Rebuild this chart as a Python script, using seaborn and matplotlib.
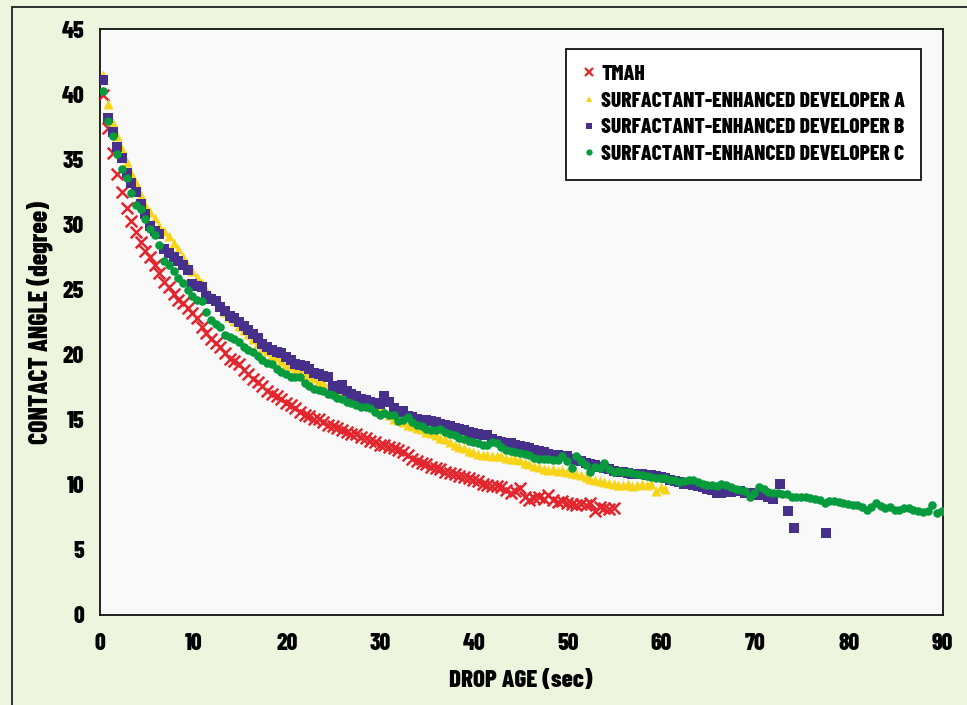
import numpy as np
import pandas as pd
import matplotlib
matplotlib.use("Agg")
import matplotlib.pyplot as plt
import seaborn as sns
from matplotlib.lines import Line2D
from matplotlib import font_manager as fm

# ---------------- data ----------------
SAMPLE_START = 0.4   # sec, first drop-age sample
SAMPLE_STEP = 0.5    # sec, sampling interval

tmah_y = [40.0, 37.4, 35.5, 33.9, 32.5, 31.3, 30.3, 29.4, 28.7, 28.0,
          27.5, 26.9, 26.3, 25.6, 25.2, 24.7, 24.2, 24.0, 23.6, 23.2,
          22.8, 22.1, 21.7, 21.2, 20.9, 20.6, 20.1, 19.7, 19.5, 19.3,
          18.8, 18.5, 18.1, 17.9, 17.6, 17.2, 17.0, 16.8, 16.6, 16.3,
          16.1, 15.9, 15.6, 15.4, 15.3, 15.1, 15.1, 14.8, 14.6, 14.5,
          14.4, 14.2, 14.1, 13.9, 13.9, 13.7, 13.6, 13.4, 13.3, 13.1,
          13.1, 12.9, 12.8, 12.7, 12.55, 12.3, 12.0, 11.8, 11.7, 11.6,
          11.4, 11.3, 11.2, 11.0, 10.9, 10.8, 10.7, 10.6, 10.5, 10.4,
          10.3, 10.1, 10.0, 9.95, 9.9, 9.85, 9.6, 9.4, 9.5, 9.75,
          9.1, 8.85, 9.0, 9.1, 8.95, 9.2, 8.8, 8.7, 8.75, 8.6,
          8.5, 8.45, 8.55, 8.45, 8.6, 8.0, 8.3, 8.2, 8.15, 8.2]

dev_a_y = [41.5, 39.3, 37.8, 36.8, 35.8, 34.8, 34.0, 33.2, 32.3, 31.5,
           31.0, 30.5, 29.9, 29.5, 29.1, 28.6, 28.1, 27.5, 26.8, 26.4,
           26.0, 25.5, 25.0, 24.5, 24.2, 23.8, 23.3, 22.9, 22.6, 22.2,
           21.9, 21.6, 21.2, 20.9, 20.5, 20.3, 20.0, 19.8, 19.5, 19.3,
           19.1, 18.9, 18.8, 18.6, 18.4, 18.2, 18.0, 17.8, 17.6, 17.4,
           17.2, 17.0, 16.9, 16.7, 16.5, 16.4, 16.2, 16.1, 15.9, 15.8,
           15.6, 15.4, 15.1, 15.0, 14.8, 14.6, 14.5, 14.4, 14.3, 14.1,
           14.0, 13.8, 13.6, 13.5, 13.3, 13.1, 12.9, 12.8, 12.6, 12.5,
           12.35, 12.3, 12.3, 12.2, 12.25, 12.2, 12.1, 12.0, 11.95, 11.9,
           11.7, 11.6, 11.45, 11.35, 11.2, 11.15, 11.2, 11.1, 11.15, 11.0,
           10.9, 10.8, 10.75, 10.6, 10.45, 10.4, 10.3, 10.25, 10.15, 10.1,
           10.0, 10.0, 10.05, 9.95, 10.0, 10.05, 10.0, 10.1, 9.5, 9.8,
           9.7]

dev_b_y = [41.1, 38.2, 37.1, 36.0, 35.1, 34.0, 33.2, 32.5, 31.6, 30.8,
           29.9, 29.5, 29.3, 28.1, 27.8, 27.5, 27.2, 26.9, 26.5, 25.4,
           25.3, 25.2, 24.5, 24.3, 24.1, 23.7, 23.4, 23.0, 22.8, 22.5,
           22.2, 21.9, 21.6, 21.3, 20.8, 20.6, 20.4, 20.2, 20.1, 19.85,
           19.6, 19.3, 19.2, 19.1, 18.9, 18.6, 18.5, 18.4, 18.3, 17.6,
           17.4, 17.7, 17.2, 17.0, 16.8, 16.6, 16.5, 16.4, 16.3, 16.2,
           16.8, 16.4, 15.9, 15.6, 15.7, 15.3, 15.2, 15.1, 15.0, 15.0,
           14.9, 14.8, 14.7, 14.6, 14.5, 14.4, 14.3, 14.2, 14.1, 14.0,
           13.9, 13.85, 13.8, 13.5, 13.4, 13.3, 13.25, 13.2, 13.1, 13.0,
           12.9, 12.8, 12.7, 12.6, 12.5, 12.35, 12.3, 12.3, 12.25, 12.2,
           12.0, 11.9, 11.8, 11.7, 11.6, 11.5, 11.4, 11.3, 11.2, 11.1,
           11.0, 10.95, 10.9, 10.85, 10.8, 10.8, 10.75, 10.75, 10.7, 10.6,
           10.5, 10.4, 10.3, 10.2, 10.1, 10.05, 10.0, 9.9, 9.8, 9.7,
           9.6, 9.4, 9.35, 9.5, 9.45, 9.5, 9.55, 9.4, 9.35, 9.3,
           9.25, 9.2, 9.05, 8.95]
# last readings of developer B (irregular times)
dev_b_tail_t = [72.6, 73.5, 74.1, 77.6]
dev_b_tail_y = [10.05, 8.0, 6.66, 6.33]

dev_c_y = [40.3, 38.0, 36.8, 35.4, 34.3, 33.6, 32.4, 31.5, 31.2, 30.4,
           29.7, 29.2, 28.4, 27.2, 26.9, 26.4, 25.9, 25.5, 25.0, 24.5,
           24.2, 24.1, 23.3, 22.7, 22.4, 22.1, 21.5, 21.4, 21.2, 21.0,
           20.6, 20.4, 20.2, 19.9, 19.6, 19.4, 19.3, 18.9, 18.7, 18.5,
           18.3, 18.3, 18.3, 17.8, 17.6, 17.4, 17.3, 17.2, 17.0, 16.9,
           16.7, 16.6, 16.4, 16.3, 16.1, 16.0, 16.0, 15.9, 15.6, 15.4,
           15.5, 15.4, 15.4, 14.9, 15.0, 15.25, 14.8, 14.6, 14.5, 14.3,
           14.2, 14.2, 14.3, 14.1, 13.9, 13.8, 13.6, 13.5, 13.4, 13.3,
           13.2, 13.1, 13.1, 13.3, 13.2, 12.9, 12.7, 12.6, 12.5, 12.45,
           12.4, 12.3, 12.1, 12.0, 12.0, 11.95, 11.9, 11.9, 12.2, 11.8,
           11.3, 12.2, 11.8, 11.5, 11.0, 11.4, 11.3, 11.65, 11.2, 11.0,
           11.1, 11.0, 11.0, 10.9, 10.8, 10.75, 10.7, 10.6, 10.55, 10.5,
           10.5, 10.4, 10.35, 10.25, 10.3, 10.35, 10.4, 10.2, 10.1, 10.0,
           10.0, 9.95, 10.05, 10.0, 9.85, 9.7, 9.6, 9.55, 9.1, 9.4,
           9.85, 9.7, 9.45, 9.35, 9.4, 9.3, 9.3, 9.1, 9.05, 9.1,
           9.1, 9.0, 8.95, 8.85, 8.6, 8.75, 8.75, 8.7, 8.6, 8.5,
           8.45, 8.45, 8.3, 8.1, 8.3, 8.6, 8.4, 8.2, 8.3, 8.1,
           8.1, 8.2, 8.2, 8.05, 8.0, 7.95, 8.0, 8.45, 7.8, 8.0]

series_names = ["TMAH",
                "SURFACTANT-ENHANCED DEVELOPER A",
                "SURFACTANT-ENHANCED DEVELOPER B",
                "SURFACTANT-ENHANCED DEVELOPER C"]
x_ticks = [0, 10, 20, 30, 40, 50, 60, 70, 80, 90]
y_ticks = [0, 5, 10, 15, 20, 25, 30, 35, 40, 45]


def sample_times(values):
    return [round(SAMPLE_START + SAMPLE_STEP * i, 2) for i in range(len(values))]


frames = []
frames.append(pd.DataFrame({"t": sample_times(tmah_y), "angle": tmah_y, "series": series_names[0]}))
frames.append(pd.DataFrame({"t": sample_times(dev_a_y), "angle": dev_a_y, "series": series_names[1]}))
frames.append(pd.DataFrame({"t": sample_times(dev_b_y) + dev_b_tail_t,
                            "angle": dev_b_y + dev_b_tail_y, "series": series_names[2]}))
frames.append(pd.DataFrame({"t": sample_times(dev_c_y), "angle": dev_c_y, "series": series_names[3]}))
df = pd.concat(frames, ignore_index=True)

# ---------------- style ----------------
sns.set_theme(style="white")
FONT = ["Barlow Condensed", "DejaVu Sans"]
plt.rcParams["font.family"] = FONT
plt.rcParams["text.color"] = "black"
plt.rcParams["axes.labelcolor"] = "black"
plt.rcParams["xtick.color"] = "black"
plt.rcParams["ytick.color"] = "black"


def FP(size):
    return fm.FontProperties(family=FONT, weight=800, size=size)


colors = {series_names[0]: "#e3262d", series_names[1]: "#f7d417",
          series_names[2]: "#46308c", series_names[3]: "#089b3d"}
markers = {series_names[0]: "x", series_names[1]: "^",
           series_names[2]: "s", series_names[3]: "o"}
sizes = {series_names[0]: 70, series_names[1]: 52,
         series_names[2]: 50, series_names[3]: 38}
legend_ms = {series_names[0]: 6, series_names[1]: 5,
             series_names[2]: 5, series_names[3]: 4.5}

fig = plt.figure(figsize=(9.67, 7.05), dpi=100, facecolor="#eef5de")
ax = fig.add_axes([0.1029, 0.1277, 0.8718, 0.8305])
ax.set_facecolor("#f9f9f9")

for name in series_names:
    sub = df[df["series"] == name]
    if markers[name] == "x":
        sns.scatterplot(data=sub, x="t", y="angle", ax=ax, marker="x",
                        s=sizes[name], color=colors[name], linewidth=1.8,
                        legend=False, zorder=3)
    else:
        sns.scatterplot(data=sub, x="t", y="angle", ax=ax, marker=markers[name],
                        s=sizes[name], color=colors[name], linewidth=0,
                        legend=False, zorder=3)

ax.set_xlim(0, 90)
ax.set_ylim(0, 45)
ax.set_xticks(x_ticks)
ax.set_yticks(y_ticks)
ax.set_xticklabels([str(v) for v in x_ticks])
ax.set_yticklabels([str(v) for v in y_ticks])
for sp in ax.spines.values():
    sp.set_color("#111111")
    sp.set_linewidth(1.3)
ax.tick_params(axis="both", which="major", direction="out", length=6, width=1.2,
               color="#111111", pad=5)
for lab in ax.get_xticklabels() + ax.get_yticklabels():
    lab.set_fontproperties(FP(17))
ax.tick_params(axis="x", pad=7)

ax.set_xlabel("DROP AGE (sec)", fontproperties=FP(18), labelpad=11)
ax.set_ylabel("CONTACT ANGLE (degree)", fontproperties=FP(18.5), labelpad=6)

handles = []
for name in series_names:
    if markers[name] == "x":
        h = Line2D([], [], linestyle="none", marker="x", color=colors[name],
                   markersize=legend_ms[name], markeredgewidth=1.6)
    else:
        h = Line2D([], [], linestyle="none", marker=markers[name],
                   color=colors[name], markersize=legend_ms[name],
                   markeredgewidth=0)
    handles.append(h)
leg = ax.legend(handles, series_names, loc="upper right",
                bbox_to_anchor=(0.975, 0.967), borderaxespad=0,
                frameon=True, fancybox=False, edgecolor="#111111",
                facecolor="#ffffff", framealpha=1,
                prop=FP(15.5),
                handlelength=0.6, handletextpad=0.3, labelspacing=0.35,
                borderpad=0.75)
leg.get_frame().set_linewidth(1.3)

# outer frame lines
fig.add_artist(Line2D([12 / 967, 12 / 967], [0, 1 - 7 / 705],
                      transform=fig.transFigure, color="#222222", linewidth=1.3))
fig.add_artist(Line2D([12 / 967, 1], [1 - 7 / 705, 1 - 7 / 705],
                      transform=fig.transFigure, color="#222222", linewidth=1.3))

fig.savefig("out.png", dpi=100, facecolor=fig.get_facecolor())
